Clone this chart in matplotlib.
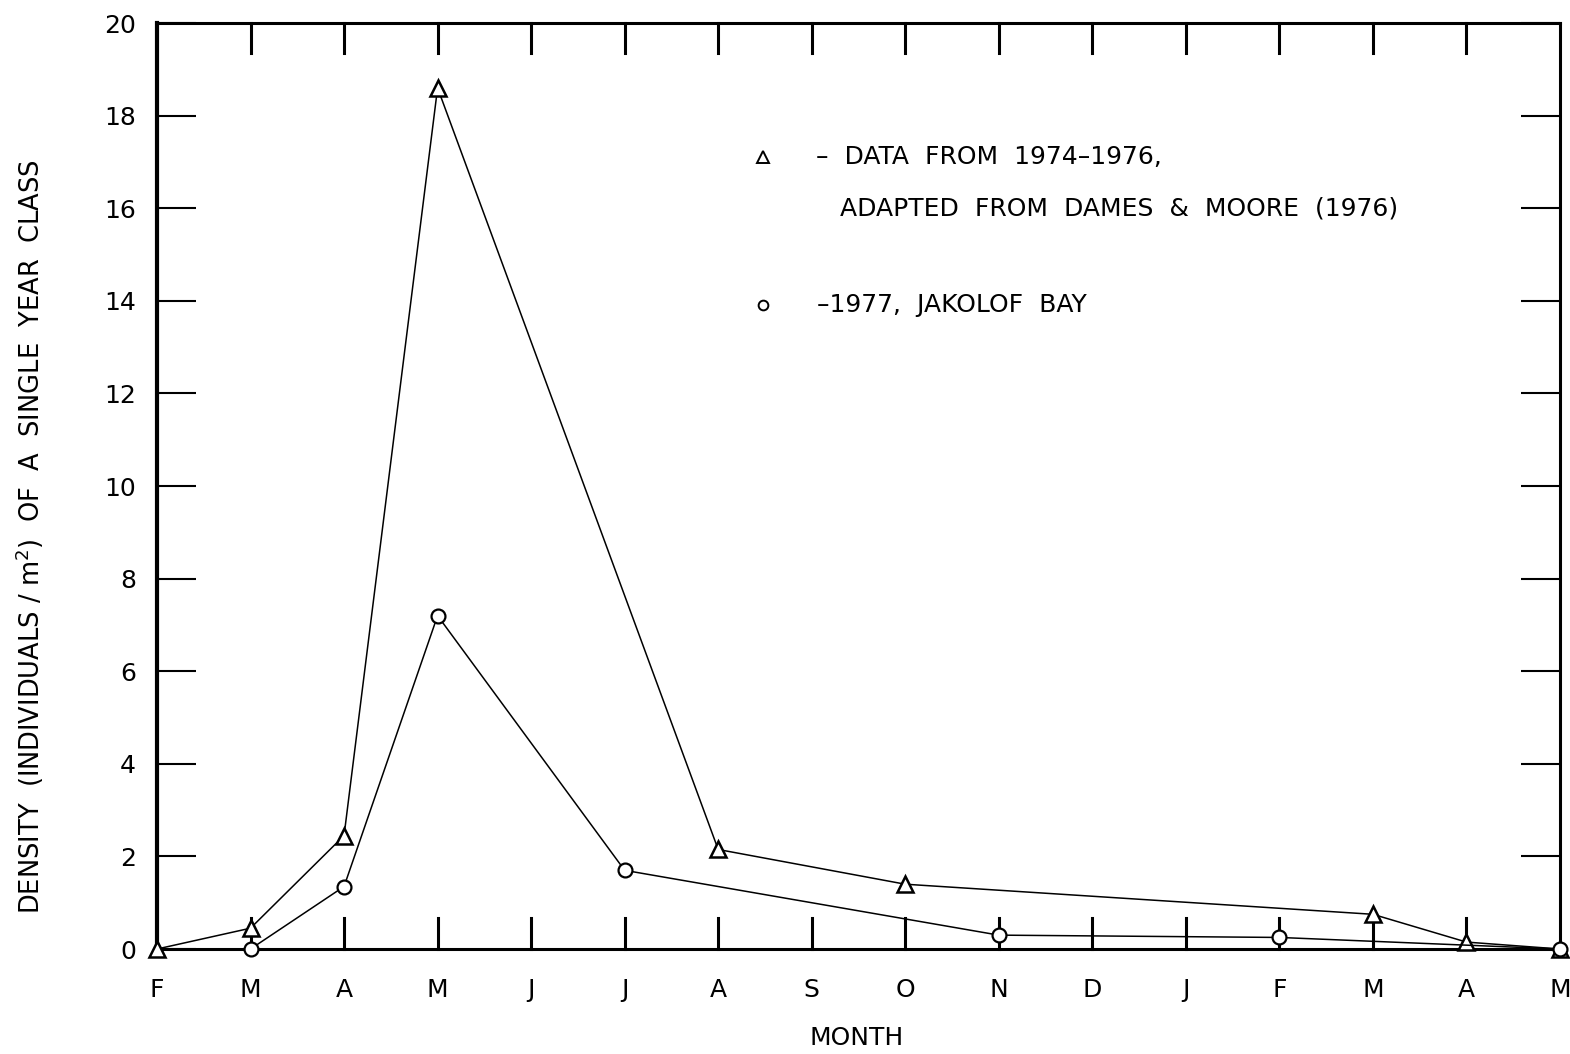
import numpy as np
import matplotlib.pyplot as plt

# month axis, Feb of year 1 to May of year 2
months = ['F', 'M', 'A', 'M', 'J', 'J', 'A', 'S', 'O', 'N', 'D', 'J', 'F', 'M', 'A', 'M']

# 1974-1976 data (Dames & Moore), triangles
tri_idx = [0, 1, 2, 3, 6, 8, 13, 14, 15]
tri_val = [0.0, 0.45, 2.45, 18.6, 2.15, 1.4, 0.75, 0.15, 0.0]

# 1977 Jakolof Bay, circles
circ_idx = [1, 2, 3, 5, 9, 12, 15]
circ_val = [0.0, 1.35, 7.2, 1.7, 0.3, 0.25, 0.0]

yticks = [0, 2, 4, 6, 8, 10, 12, 14, 16, 18, 20]
ytick_labels = ['0', '2', '4', '6', '8', '10', '12', '14', '16', '18', '20']

plt.rcParams['font.family'] = ['DejaVu Sans']

fig = plt.figure(figsize=(15.7, 10.54), dpi=100)
ax = fig.add_axes([0.1, 0.0996, 0.8936, 0.8785])

ax.plot(tri_idx, tri_val, color='black', lw=1.1, marker='^', ms=11,
        mfc='white', mec='black', mew=1.8, zorder=3, clip_on=False)
ax.plot(circ_idx, circ_val, color='black', lw=1.1, marker='o', ms=10,
        mfc='white', mec='black', mew=1.6, zorder=3, clip_on=False)

ax.set_xlim(0, 15)
ax.set_ylim(0, 20)

for s in ax.spines.values():
    s.set_linewidth(2.2)
ax.spines['left'].set_linewidth(3)

# y ticks, inward on both sides, labels on left
ax.set_yticks(yticks)
ax.set_yticklabels(ytick_labels, fontsize=18)
ax.tick_params(axis='y', direction='in', length=28, width=1.5, right=True,
               pad=15)

# x ticks: labels at every month, tick marks drawn as inward lines
ax.set_xticks(range(len(months)))
ax.set_xticklabels(months, fontsize=18)
ax.tick_params(axis='x', length=0, pad=21)
for i in range(1, 15):
    ax.plot([i, i], [20, 19.35], color='black', lw=2.2, clip_on=False)
for i in range(1, 15):
    ax.plot([i, i], [0, 0.68], color='black', lw=2.2, clip_on=False, zorder=2)

ax.set_xlabel('MONTH', fontsize=18)
ax.xaxis.set_label_coords(0.499, -0.083)
ax.set_ylabel('DENSITY  (INDIVIDUALS / m$^2$)  OF  A  SINGLE  YEAR  CLASS',
              fontsize=18.5)
ax.yaxis.set_label_coords(-0.079, 0.445)

# legend written as text, as in the original
ax.plot([6.48], [17.1], marker='^', ms=8, mfc='white', mec='black', mew=1.4,
        ls='none')
ax.text(7.05, 17.1, '–  DATA  FROM  1974–1976,', fontsize=18, va='center')
ax.text(7.3, 16.0, 'ADAPTED  FROM  DAMES  &  MOORE  (1976)', fontsize=18,
        va='center')
ax.plot([6.48], [13.9], marker='o', ms=7, mfc='white', mec='black', mew=1.4,
        ls='none')
ax.text(7.06, 13.9, '–1977,  JAKOLOF  BAY', fontsize=18, va='center')

fig.savefig('out.png', dpi=100)
